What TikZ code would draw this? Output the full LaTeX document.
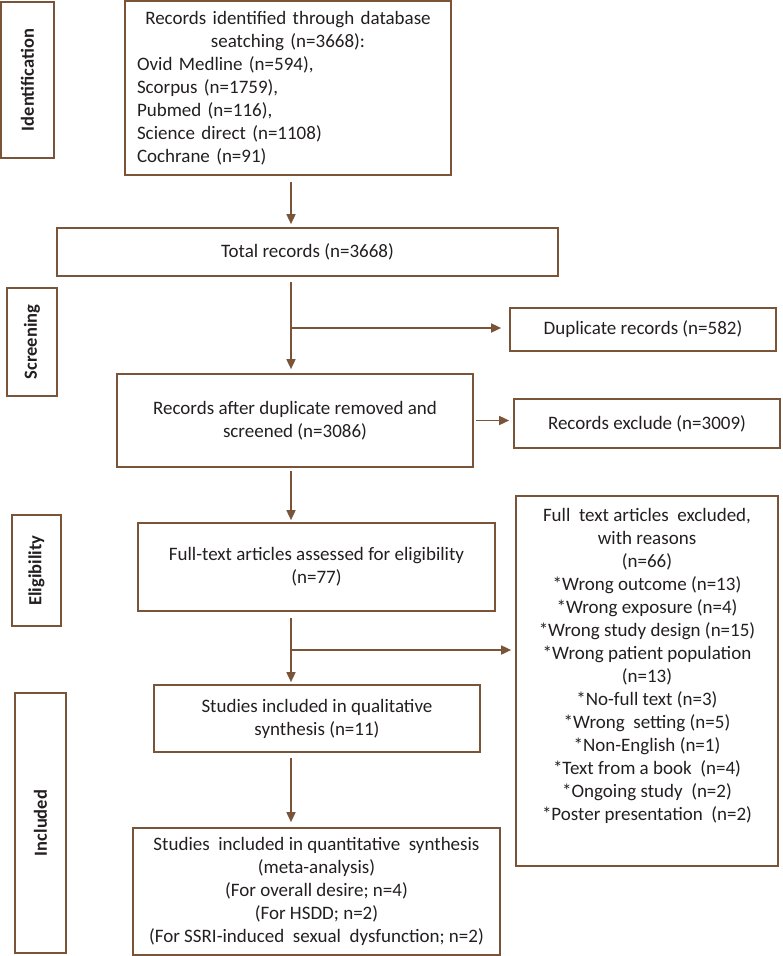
\documentclass[tikz,border=0pt]{standalone}
\usepackage{fontspec}
\setmainfont{Carlito}
\usetikzlibrary{arrows.meta}
\definecolor{brn}{RGB}{122,84,56}
\definecolor{txt}{RGB}{35,31,32}
\begin{document}
\begin{tikzpicture}[x=1pt,y=-1pt,
  box/.style={draw=brn,line width=1.7pt,text=txt,font=\fontsize{19}{23}\selectfont,align=center,inner sep=0pt},
  lab/.style={draw=brn,line width=1.7pt,text=txt,font=\fontsize{18.5}{22}\selectfont\bfseries,rotate=90,inner sep=0pt},
  arr/.style={draw=brn,line width=1.7pt,-{Triangle[length=10pt,width=9pt]}},
  plain/.style={text=txt,font=\fontsize{19}{23}\selectfont,align=center,inner sep=0pt}]
\useasboundingbox (0,0) rectangle (782,956);

% stage labels
\node[lab,minimum width=156pt,minimum height=53pt] (idl) at (27.5,80) {Identification};
\node[lab,minimum width=108pt,minimum height=50pt] (scl) at (32,342) {Screening};
\node[lab,minimum width=111pt,minimum height=49pt] (ell) at (36.5,570.5) {Eligibility};
\node[lab,minimum width=260pt,minimum height=51pt] (inl) at (40.5,823) {Included};

% main boxes
\node[box,align=left,text width=302pt,minimum width=326pt,minimum height=174pt] (top) at (288,88)
  {\centering Records identified through database\\ seatching (n=3668):\par
   \raggedright Ovid Medline (n=594),\\ Scorpus (n=1759),\\ Pubmed (n=116),\\ Science direct (n=1108)\\ Cochrane (n=91)};
\node[box,minimum width=501pt,minimum height=48pt] (total) at (307.5,252) {Total records (n=3668)};
\node[box,minimum width=266pt,minimum height=43pt] (dup) at (643,329.5) {Duplicate records (n=582)};
\node[box,minimum width=356pt,minimum height=93pt] (after) at (295,420.5) {Records after duplicate removed and\\ screened (n=3086)};
\node[box,minimum width=266pt,minimum height=49pt] (excl) at (647,423.5) {Records exclude (n=3009)};
\node[box,minimum width=357pt,minimum height=88pt] (full) at (316.5,567) {Full-text articles assessed for eligibility\\ (n=77)};
\node[box,minimum width=262pt,minimum height=370pt] (rb) at (647,681) {};
\node[plain,anchor=north] (rbt) at (647,508)
  {Full\ \ text articles\ \ excluded,\\ with reasons\\ (n=66)\\ *Wrong outcome (n=13)\\ *Wrong exposure (n=4)\\
   *Wrong study design (n=15)\\ *Wrong patient population\\ (n=13)\\ *No-full text (n=3)\\ *Wrong\ \ setting (n=5)\\
   *Non-English (n=1)\\ *Text from a book\ \ (n=4)\\ *Ongoing study\ \ (n=2)\\ *Poster presentation\ \ (n=2)};
\node[box,minimum width=326pt,minimum height=67pt] (qual) at (317,718.5) {Studies included in qualitative\\ synthesis (n=11)};
\node[box,minimum width=367pt,minimum height=127pt] (quant) at (316.5,891.5)
  {Studies\ \ included in quantitative\ \ synthesis\\ (meta-analysis)\\ (For overall desire; n=4)\\ (For HSDD; n=2)\\ (For SSRI-induced\ \ sexual\ \ dysfunction; n=2)};

% spine and branch points
\coordinate (sp) at (291,0);
\coordinate (b1) at (291,328);
\coordinate (b2) at (291,650);

\draw[arr,shorten <=6pt,shorten >=3pt] (top.south -| sp) -- (total.north -| sp);
\draw[arr,shorten <=5pt,shorten >=4pt] (total.south -| sp) -- (after.north -| sp);
\draw[arr,shorten >=8pt] (b1) -- (b1 -| dup.west);
\draw[arr,shorten <=3pt,shorten >=2pt] (after.south -| sp) -- (full.north -| sp);
\draw[arr,shorten <=2pt,shorten >=4pt] (after.east) -- (after.east -| excl.west);
\draw[arr,shorten <=6pt,shorten >=2pt] (full.south -| sp) -- (qual.north -| sp);
\draw[arr,shorten >=4pt] (b2) -- (b2 -| rb.west);
\draw[arr,shorten <=5pt,shorten >=5pt] (qual.south -| sp) -- (quant.north -| sp);
\end{tikzpicture}
\end{document}
